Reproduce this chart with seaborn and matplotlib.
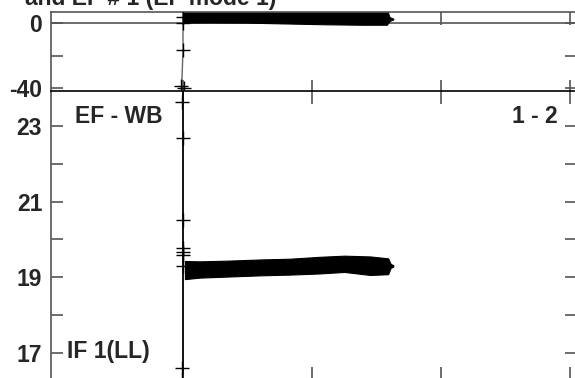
import numpy as np
import pandas as pd
import matplotlib
matplotlib.use("Agg")
import matplotlib.pyplot as plt
from matplotlib.ticker import FixedLocator
import seaborn as sns

# ---- data ----
title_text = "and EF # 1 (EF mode 1)"

# top panel: start-up spike at t ~ 0 and the noisy band afterwards
top_spike_x = [0.0, 0.0, 0.0, 0.0, -0.01, 0.01, 0.0]
top_spike_y = [6.0, 4.0, 0.0, -16.4, -39.0, -40.0, -45.0]
top_marker_x = [0.0, 0.0, 0.0, -0.015, 0.01]
top_marker_y = [4.0, 0.0, -16.4, -39.0, -40.0]
top_band_x = [0.0, 0.2, 0.5, 0.8, 1.1, 1.4, 1.58, 1.6, 1.63]
top_band_lo = [0.5, 0.6, 0.5, 0.0, -0.5, -0.8, -0.8, 1.5, 2.5]
top_band_hi = [9.0, 9.0, 9.0, 9.0, 9.0, 9.0, 9.0, 4.0, 3.0]

# bottom panel: wet bulb spike and band
bot_spike_x = [0.0, 0.0, 0.0, 0.0, 0.0, 0.0, 0.0, 0.0, 0.0, -0.01]
bot_spike_y = [26.0, 23.64, 22.68, 20.51, 19.78, 19.67, 19.6, 19.24, 16.6, 15.5]
bot_marker_x = [-0.005, 0.0, 0.0, 0.0, 0.0, 0.0, 0.0, -0.01]
bot_marker_y = [23.64, 22.68, 20.51, 19.78, 19.67, 19.6, 19.3, 16.6]
bot_band_x = [0.015, 0.13, 0.36, 0.6, 0.83, 1.06, 1.25, 1.45, 1.59, 1.61, 1.63]
bot_band_lo = [18.95, 18.99, 19.02, 19.05, 19.07, 19.10, 19.14, 19.06, 19.08, 19.25, 19.28]
bot_band_hi = [19.43, 19.42, 19.44, 19.47, 19.49, 19.54, 19.57, 19.55, 19.50, 19.35, 19.32]

x_ticks = [0, 1, 2, 3]
top_major = [0, -40]
top_minor = [-20]
bot_major = [17, 19, 21, 23]
bot_minor = [18, 20, 22]

sns.set_style("ticks")
plt.rcParams["font.family"] = ["Liberation Sans", "DejaVu Sans"]
plt.rcParams["font.weight"] = "bold"

W, H = 575, 378
fig = plt.figure(figsize=(W / 100, H / 100), dpi=100)

left = 50.5 / W
width = (577 - 50.5) / W
ax_top = fig.add_axes([left, 1 - 91.5 / H, width, (91.5 - 11.7) / H])
ax_bot = fig.add_axes([left, 1 - 379 / H, width, (379 - 91.5) / H])

xlim = (-1.027, 3.054)
spine_col = "#555555"
fs = 16.5

for ax in (ax_top, ax_bot):
    ax.set_xlim(*xlim)
    ax.xaxis.set_major_locator(FixedLocator(x_ticks))
    ax.set_xticklabels([])
    ax.tick_params(axis="x", which="both", direction="in", top=True, bottom=True,
                   length=9, width=1.2, color=spine_col)
    ax.tick_params(axis="y", which="both", direction="in", left=True, right=True,
                   length=8.5, width=1.2, color=spine_col, labelsize=fs, pad=6)
    for s in ax.spines.values():
        s.set_color(spine_col)
        s.set_linewidth(1.2)

# ---- top panel ----
ax_top.set_ylim(-42.2, 7.3)
ax_top.yaxis.set_major_locator(FixedLocator(top_major))
ax_top.yaxis.set_minor_locator(FixedLocator(top_minor))
ax_top.set_yticklabels([str(v) for v in top_major], fontweight="bold")
ax_top.axhline(0, color=spine_col, lw=1.2, zorder=1)
ax_top.spines["bottom"].set_color("black")

sns.lineplot(x=top_spike_x, y=top_spike_y, sort=False, estimator=None,
             color="#666666", lw=1.0, ax=ax_top)
sns.scatterplot(x=top_marker_x, y=top_marker_y, marker="+", s=110,
                color="black", linewidth=1.0, ax=ax_top, zorder=3)
ax_top.fill_between(top_band_x, top_band_lo, top_band_hi, color="black", lw=0.8)

# ---- bottom panel ----
ax_bot.set_ylim(16.31, 23.91)
ax_bot.yaxis.set_major_locator(FixedLocator(bot_major))
ax_bot.yaxis.set_minor_locator(FixedLocator(bot_minor))
ax_bot.set_yticklabels([str(v) for v in bot_major], fontweight="bold")
ax_bot.spines["top"].set_color("black")
ax_bot.spines["bottom"].set_visible(False)

sns.lineplot(x=bot_spike_x, y=bot_spike_y, sort=False, estimator=None,
             color="black", lw=1.3, ax=ax_bot)
sns.scatterplot(x=bot_marker_x, y=bot_marker_y, marker="+", s=110,
                color="black", linewidth=1.0, ax=ax_bot, zorder=3)
ax_bot.fill_between(bot_band_x, bot_band_lo, bot_band_hi, color="black", lw=0.8)

ax_bot.text(-0.837, 23.24, "EF - WB", fontsize=fs, fontweight="bold", va="center", ha="left")
ax_bot.text(2.907, 23.24, "1 - 2", fontsize=fs, fontweight="bold", va="center", ha="right")
ax_bot.text(-0.899, 17.03, "IF 1(LL)", fontsize=fs, fontweight="bold", va="center", ha="left")

for ax in (ax_top, ax_bot):
    ax.set_xlabel("")
    ax.set_ylabel("")

fig.text(25 / W, 1 - 5 / H, title_text, fontsize=fs, fontweight="bold",
         ha="left", va="baseline")

fig.savefig("out.png", dpi=100)
